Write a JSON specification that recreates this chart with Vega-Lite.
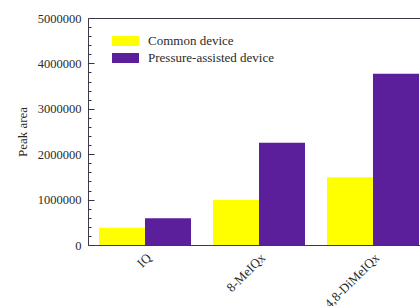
{
  "$schema": "https://vega.github.io/schema/vega-lite/v6.json",
  "autosize": "none",
  "padding": {"left": 88, "top": 18, "right": 0, "bottom": 61},
  "width": 332,
  "height": 227,
  "background": "white",
  "config": {
    "font": "Liberation Serif",
    "view": {"stroke": "#3a3a4a", "strokeWidth": 1},
    "axis": {"labelFont": "Liberation Serif", "titleFont": "Liberation Serif"},
    "legend": {"labelFont": "Liberation Serif"}
  },
  "data": {
    "values": [
      {"compound": "IQ", "device": "Common device", "area": 380000},
      {"compound": "IQ", "device": "Pressure-assisted device", "area": 590000},
      {"compound": "8-MeIQx", "device": "Common device", "area": 990000},
      {"compound": "8-MeIQx", "device": "Pressure-assisted device", "area": 2250000},
      {"compound": "4,8-DiMeIQx", "device": "Common device", "area": 1490000},
      {"compound": "4,8-DiMeIQx", "device": "Pressure-assisted device", "area": 3770000}
    ]
  },
  "mark": {"type": "bar", "clip": false},
  "encoding": {
    "x": {
      "field": "compound",
      "type": "nominal",
      "sort": ["IQ", "8-MeIQx", "4,8-DiMeIQx"],
      "scale": {"range": [0, 342], "paddingInner": 0.193, "paddingOuter": 0.0965},
      "axis": {
        "title": null,
        "labelAngle": -45,
        "labelFontSize": 13,
        "labelColor": "#2a2a2a",
        "ticks": false,
        "labelPadding": 6,
        "domainColor": "#3a3a4a",
        "domainWidth": 1
      }
    },
    "xOffset": {
      "field": "device",
      "type": "nominal",
      "sort": ["Common device", "Pressure-assisted device"],
      "scale": {"paddingInner": 0, "paddingOuter": 0}
    },
    "y": {
      "field": "area",
      "type": "quantitative",
      "scale": {"domain": [0, 5000000], "nice": false},
      "axis": {
        "title": "Peak area",
        "titleFontSize": 13,
        "titleFontWeight": "normal",
        "titleColor": "#2a2a2a",
        "titlePadding": 8,
        "offset": -6,
        "domain": false,
        "zindex": 1,
        "values": [0, 200000, 400000, 600000, 800000, 1000000, 1200000, 1400000, 1600000, 1800000, 2000000, 2200000, 2400000, 2600000, 2800000, 3000000, 3200000, 3400000, 3600000, 3800000, 4000000, 4200000, 4400000, 4600000, 4800000, 5000000],
        "labelExpr": "datum.value % 1000000 === 0 ? format(datum.value, 'd') : ''",
        "format": "d",
        "labelFontSize": 12.5,
        "labelColor": "#2a2a2a",
        "ticks": true,
        "tickSize": 6,
        "tickWidth": 1,
        "tickDash": {"condition": {"test": "datum.value % 1000000 === 0", "value": [6, 0]}, "value": [0, 3, 3, 20]},
        "labelPadding": 7,
        "tickColor": "#333344",
        "grid": false,
        "labelOverlap": false
      }
    },
    "color": {
      "field": "device",
      "type": "nominal",
      "sort": ["Common device", "Pressure-assisted device"],
      "scale": {"range": ["#ffff00", "#5b1f9c"]},
      "legend": {
        "title": null,
        "orient": "none",
        "legendX": 27.5,
        "legendY": 13,
        "symbolType": "M-1.35,-0.5L1.35,-0.5L1.35,0.5L-1.35,0.5Z",
        "symbolSize": 400,
        "symbolStrokeWidth": 0,
        "labelFontSize": 13,
        "labelColor": "#2a2a2a",
        "rowPadding": -2.5,
        "labelOffset": 12.5
      }
    }
  }
}
